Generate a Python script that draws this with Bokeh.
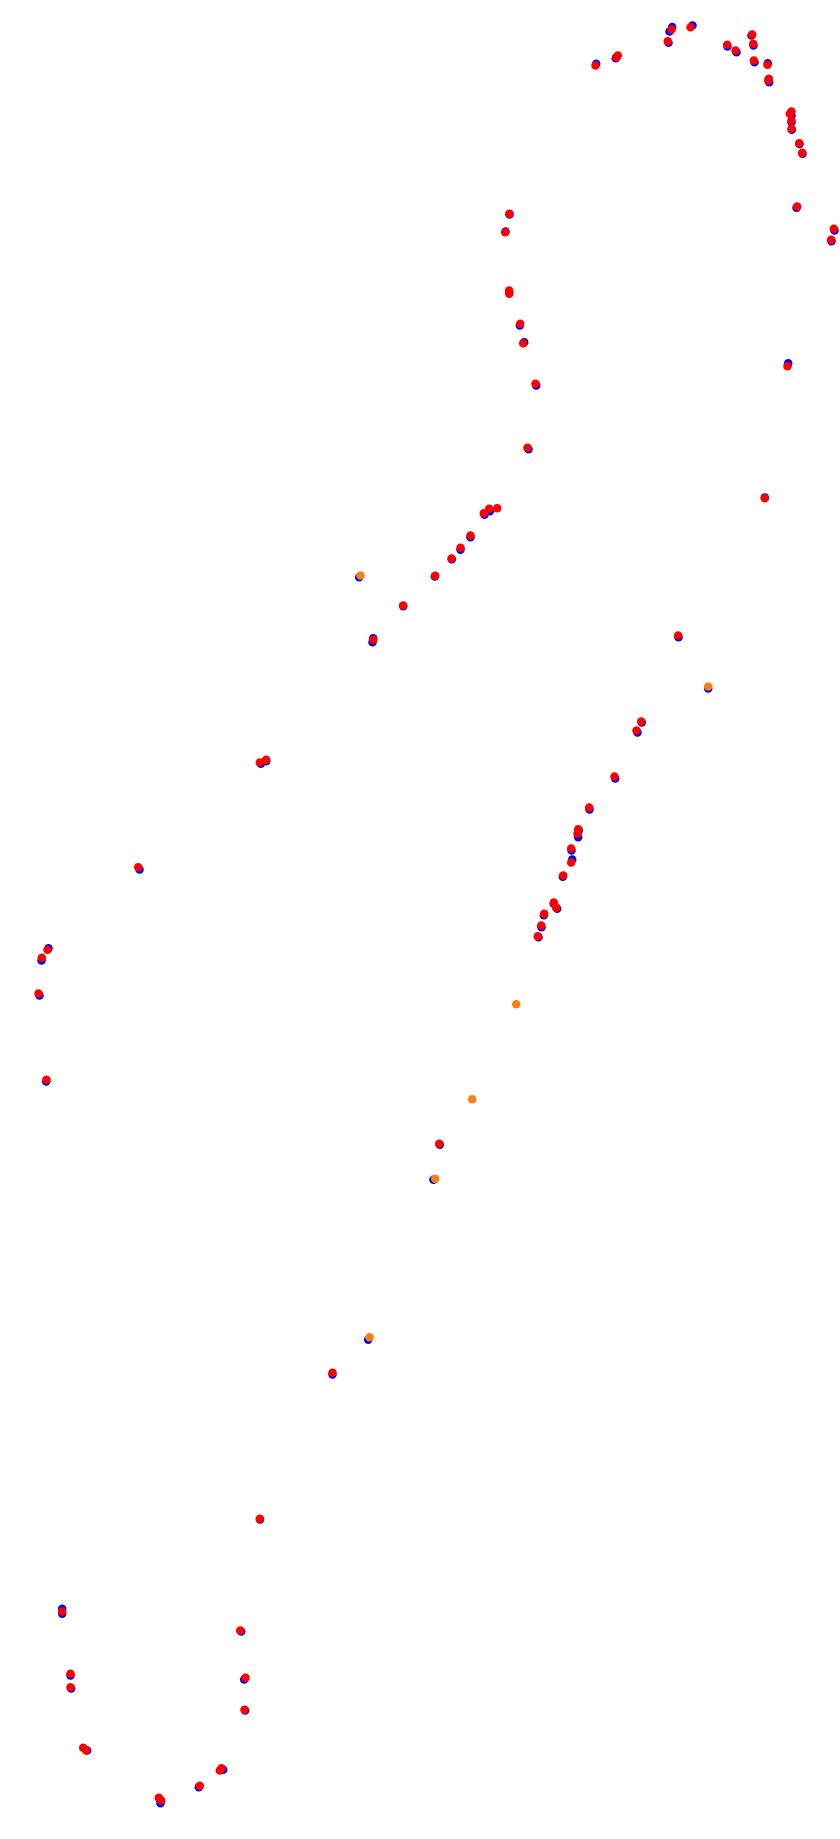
from bokeh.plotting import figure
from bokeh.models import Range1d
from bokeh.embed import file_html
from bokeh.resources import INLINE

# Track positions (x, y in track units; y grows downward)
blue_x = [671.7, 669, 692, 668, 727, 736, 751, 753, 754, 767.3, 768.7, 791, 791, 791.3, 799, 802, 796, 834, 831, 615.3, 595.7,
          509, 505, 508.7, 519.3, 523.7, 535.7, 528, 484, 489.3,
          470, 460, 451.3, 434.3, 402.7, 372.7, 372, 358.7,
          678, 707.7, 641.3, 637, 614.7, 589, 578.3, 577.7, 571, 571.7, 562.3, 553.3, 556.7, 543.3, 541, 538,
          787.7, 764.3, 260.3, 265.7, 139, 48, 41, 39, 45.7,
          439.3, 433, 367.7, 332, 259.5,
          61.7, 61.7, 240.7, 70, 70.7, 243.7, 244.7, 86.7, 222.7, 198.3, 159.3, 160]
blue_y = [26.5, 31, 25, 42.3, 46, 51.7, 35, 45, 61.7, 62.7, 81.7, 115, 121.7, 129.3, 143.5, 153.3, 207.3, 230, 240.7, 57.7, 63.3,
          214, 231, 291.7, 325, 341.7, 385, 448.7, 514.3, 510.7,
          536.7, 549.3, 558.7, 576, 605.7, 637.7, 641.7, 576.7,
          636.7, 688, 722, 732, 778, 809, 830, 836.7, 850, 859, 876.3, 903.3, 908.3, 914.7, 926.7, 936.7,
          362.7, 497, 763.3, 760.7, 869, 947.7, 960, 995, 1081,
          1144.3, 1179.3, 1339.3, 1374, 1519,
          1608.3, 1613.3, 1631, 1675, 1688, 1679, 1710, 1750, 1769.3, 1786.7, 1798.7, 1802.7]

red_x = [671, 690, 667.3, 726.7, 735, 751.7, 752.7, 753.3, 767, 768.3, 767.7, 789.3, 791, 791, 791, 798.7, 801.7, 796.7, 833.3, 830.7, 616, 617.3, 595,
         509, 504.7, 508.7, 508.7, 519.7, 522.7, 535, 527, 483.3, 488.7, 496.7,
         470, 460, 451, 434.7, 402.7, 372.7,
         677.7, 640.7, 636, 614, 588.7, 577.7, 577, 570.7, 570.7, 562.7, 553.3, 555.7, 543.7, 540.7, 537.3,
         787, 764.3, 259.3, 265.7, 137.7, 47, 41.3, 38, 46,
         438.7, 332, 259.3,
         61.7, 239.7, 70, 70, 245, 244, 82.7, 85.7, 221, 219.3, 199.3, 158.3, 160.7]
red_y = [29, 26.7, 40.7, 44.3, 50, 34, 43.3, 60, 64.3, 78.3, 80, 113.3, 111, 120, 128.3, 142.7, 152.3, 206, 228.3, 239.3, 56.7, 55, 65,
         213.3, 231.7, 290, 293.3, 323.3, 342.7, 383.3, 447.3, 512.7, 508.3, 507.7,
         535, 547.3, 558, 575.3, 605, 639.3,
         635, 721, 730, 776, 807, 828.7, 833.3, 848, 862, 875, 902, 907.3, 913.3, 925, 935.7,
         365.7, 497.7, 762, 759.3, 866.7, 949.3, 957.3, 993, 1079.3,
         1143.3, 1372.3, 1518.3,
         1611, 1630, 1673.3, 1686.7, 1677.3, 1709.3, 1747.3, 1750, 1767.7, 1770, 1785.3, 1797.3, 1800]

orange_x = [360, 707.7, 515.7, 471.7, 434.7, 369]
orange_y = [575, 686, 1003.7, 1098.7, 1178.3, 1336.7]

p = figure(width=840, height=1831, output_backend="svg", toolbar_location=None,
           x_range=Range1d(0, 840), y_range=Range1d(1831, 0),
           min_border=0, min_border_left=0, min_border_right=0, min_border_top=0, min_border_bottom=0)
p.axis.visible = False
p.xgrid.visible = False
p.ygrid.visible = False
p.outline_line_color = None
p.background_fill_color = "white"
p.border_fill_color = "white"

p.scatter(blue_x, blue_y, size=8.5, fill_color="#0000ff", line_color=None)
p.scatter(red_x, red_y, size=8.5, fill_color="#ff0000", line_color=None)
p.scatter(orange_x, orange_y, size=8.5, fill_color="#ff7f0e", line_color=None)

open("out.html", "w").write(file_html(p, INLINE))
